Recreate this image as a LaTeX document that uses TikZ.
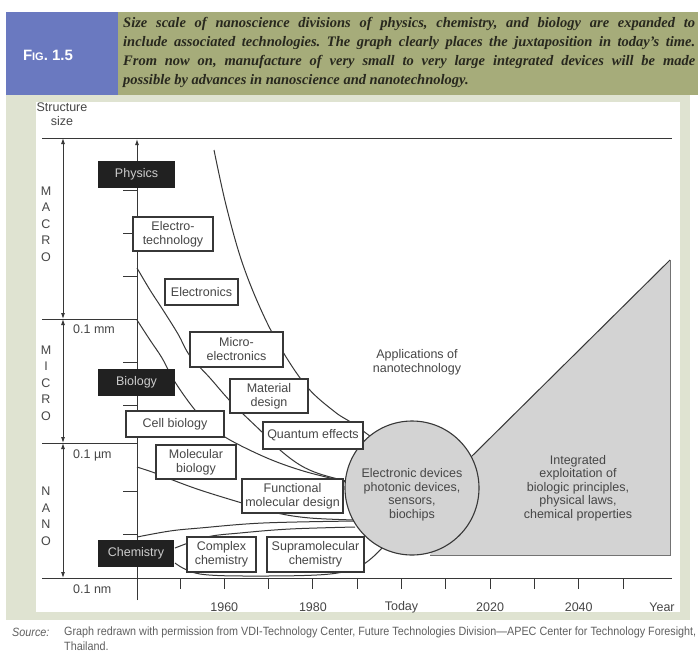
\documentclass[tikz,border=0pt]{standalone}
\usepackage{fontspec}
\setmainfont{Liberation Serif}
\newfontfamily\chartfont{Liberation Sans}
\newfontfamily\srcfont[FakeStretch=0.9]{Liberation Sans}
\usetikzlibrary{arrows.meta}

\definecolor{figblue}{RGB}{106,121,192}
\definecolor{capgreen}{RGB}{166,172,122}
\definecolor{panelgrey}{RGB}{223,227,209}
\definecolor{linec}{RGB}{55,55,55}
\definecolor{txtc}{RGB}{70,70,70}
\definecolor{fieldfill}{RGB}{33,33,33}
\definecolor{fieldtxt}{RGB}{205,205,205}
\definecolor{areagrey}{RGB}{211,211,211}
\definecolor{srcgrey}{RGB}{95,95,95}
\definecolor{captxt}{RGB}{40,40,30}

\newcommand{\chartsize}{\chartfont\fontsize{12.5}{14}\selectfont}

\tikzset{
  techbox/.style={draw=linec, fill=white, line width=1.1pt, text=txtc, align=center, inner sep=0pt, font=\chartsize},
  fieldbox/.style={fill=fieldfill, text=fieldtxt, inner sep=0pt, font=\chartsize},
  axislabel/.style={text=txtc, inner sep=0pt, font=\chartsize},
  axisline/.style={draw=linec, line width=1pt},
  trend/.style={draw=linec, line width=1pt},
  sizearrow/.style={draw=linec, line width=0.9pt, {Latex[length=6pt,width=4pt]}-{Latex[length=6pt,width=4pt]}},
}

\begin{document}
\frenchspacing
\begin{tikzpicture}[x=1pt, y=-1pt]
\useasboundingbox (0,0) rectangle (698,654);

% header band
\fill[figblue] (6,12) rectangle (118,95);
\fill[capgreen] (118,12) rectangle (698,95);
\node[text=white, font=\chartfont\bfseries\fontsize{15}{17}\selectfont] (fignum) at (48,55) {F{\fontsize{11}{13}\selectfont IG}. 1.5};
\node[anchor=north west, align=left, inner sep=0pt, text=captxt, font=\bfseries\itshape\fontsize{14.5}{19}\selectfont] (caption) at (123,17)
  {\makebox[572pt][s]{Size scale of nanoscience divisions of physics, chemistry, and biology are expanded to}\\
   \makebox[572pt][s]{include associated technologies. The graph clearly places the juxtaposition in today's time.}\\
   \makebox[572pt][s]{From now on, manufacture of very small to very large integrated devices will be made}\\
   possible by advances in nanoscience and nanotechnology.};

% panels
\fill[panelgrey] (6,95) rectangle (690,620);
\fill[white] (36,102) rectangle (680,612);

% size levels
\coordinate (lvtop) at (63,138);
\coordinate (lvmm) at (63,319);
\coordinate (lvum) at (63,443);
\coordinate (lvnm) at (63,578);
\draw[axisline] (42,138) -- (672,138);
\draw[axisline] (42,319) -- (137,319);
\draw[axisline] (42,443) -- (137,443);
\draw[axisline] (42,578) -- (672,578);
\draw[sizearrow] (lvtop) -- (lvmm);
\draw[sizearrow] (lvmm) -- (lvum);
\draw[sizearrow] (lvum) -- (lvnm);
\draw[axisline, -{Latex[length=6pt,width=4pt]}] (137,600) -- (137,139);
\foreach \ty in {190,233,276,362,405,491,534}
  \draw[axisline] (123,\ty) -- (137,\ty);
\foreach \k in {0,...,10}
  \draw[axisline] ({180+44.3*\k},578) -- ({180+44.3*\k},589);

\node[axislabel, align=center] (structsize) at (62,114) {Structure\\size};
\node[axislabel, align=center, font=\chartfont\fontsize{12.5}{16.5}\selectfont] (macro) at (46,224) {M\\A\\C\\R\\O};
\node[axislabel, align=center, font=\chartfont\fontsize{12.5}{16.5}\selectfont] (micro) at (46,383) {M\\I\\C\\R\\O};
\node[axislabel, align=center, font=\chartfont\fontsize{12.5}{16.5}\selectfont] (nano) at (46,516) {N\\A\\N\\O};
\node[axislabel, anchor=west] (mm) at (73,329) {0.1 mm};
\node[axislabel, anchor=west] (um) at (73,455) {0.1 µm};
\node[axislabel, anchor=west] (nm) at (73,589) {0.1 nm};
\foreach \yr/\k in {1960/1,1980/3,Today/5,2020/7,2040/9}
  \node[axislabel] (yr\k) at ({180+44.3*\k},607) {\yr};
\node[axislabel] (yearlbl) at (662,607) {Year};

% development curves
\draw[trend] plot[smooth, tension=0.6] coordinates {(214,150) (226,205) (242,262) (262,312) (283,352) (308,388) (335,412) (352,423) (378,442)};
\draw[trend] plot[smooth, tension=0.6] coordinates {(137,268) (150,290) (163,310) (178,334) (190,356) (210,378) (232,403) (263,433) (280,450) (300,465) (320,474) (350,482)};
\draw[trend] plot[smooth, tension=0.6] coordinates {(137,320) (150,340) (162,358) (175,382) (195,410) (212,427) (230,440) (267,458) (300,470) (330,478) (350,483)};
\draw[trend] plot[smooth, tension=0.6] coordinates {(137,467) (155,473) (170,479) (200,490) (242,503) (277,513) (310,518) (355,520)};
\draw[trend] plot[smooth, tension=0.6] coordinates {(137,537) (170,531) (200,528) (263,523) (355,521)};
\draw[trend] plot[smooth, tension=0.6] coordinates {(175,548) (207,537) (240,533) (290,529) (355,527)};
\draw[trend] plot[smooth, tension=0.6] coordinates {(175,563) (200,574) (260,576) (330,574) (362,565) (382,548)};

% application area
\fill[areagrey] (430,555) -- (471,457) -- (670,260) -- (670,555) -- cycle;
\draw[linec, line width=1pt] (471,457) -- (670,260);
\draw[linec!70, line width=1pt] (670,260) -- (670,555) -- (430,555);
\node[circle, draw=linec, fill=areagrey, line width=1.1pt, minimum size=134pt, inner sep=0pt] (devices) at (412,488) {};
\node[axislabel, align=center, font=\chartfont\fontsize{12.5}{13.5}\selectfont] (devtext) at (412,495) {Electronic devices\\photonic devices,\\sensors,\\biochips};
\node[axislabel, align=center, font=\chartfont\fontsize{12.5}{13.5}\selectfont] (integr) at (578,488) {Integrated\\exploitation of\\biologic principles,\\physical laws,\\chemical properties};
\node[axislabel, align=center] (apps) at (417,362) {Applications of\\nanotechnology};

% fields and technologies
\node[fieldbox, minimum width=77pt, minimum height=27pt] (physics) at (136.5,174.5) {Physics};
\node[fieldbox, minimum width=77pt, minimum height=27pt] (biology) at (136.5,382.5) {Biology};
\node[fieldbox, minimum width=76pt, minimum height=27pt] (chemistry) at (136,553.5) {Chemistry};
\node[techbox, minimum width=80pt, minimum height=34pt] (etech) at (173,234) {Electro-\\technology};
\node[techbox, minimum width=73pt, minimum height=26pt] (electronics) at (201.5,292) {Electronics};
\node[techbox, minimum width=93pt, minimum height=35pt] (microel) at (236.5,349.5) {Micro-\\electronics};
\node[techbox, minimum width=78pt, minimum height=34pt] (material) at (269,396) {Material\\design};
\node[techbox, minimum width=100pt, minimum height=27pt] (quantum) at (313,435.5) {Quantum effects};
\node[techbox, minimum width=98pt, minimum height=26pt] (cellbio) at (175,424) {Cell biology};
\node[techbox, minimum width=80pt, minimum height=34pt] (molbio) at (196,462) {Molecular\\biology};
\node[techbox, minimum width=101pt, minimum height=34pt] (funcmol) at (292.5,496) {Functional\\molecular design};
\node[techbox, minimum width=69pt, minimum height=35pt] (complexchem) at (221.5,554.5) {Complex\\chemistry};
\node[techbox, minimum width=97pt, minimum height=35pt] (supramol) at (315.5,554.5) {Supramolecular\\chemistry};

% source line
\node[anchor=west, inner sep=0pt, text=srcgrey, font=\srcfont\itshape\fontsize{12}{13}\selectfont] (srclbl) at (12,632) {Source:};
\node[anchor=west, inner sep=0pt, text=srcgrey, font=\srcfont\fontsize{12}{13}\selectfont] (srctext) at (64,632) {Graph redrawn with permission from VDI-Technology Center, Future Technologies Division—APEC Center for Technology Foresight,};
\node[anchor=west, inner sep=0pt, text=srcgrey, font=\srcfont\fontsize{12}{13}\selectfont] (srcthai) at (64,646) {Thailand.};
\end{tikzpicture}
\end{document}
